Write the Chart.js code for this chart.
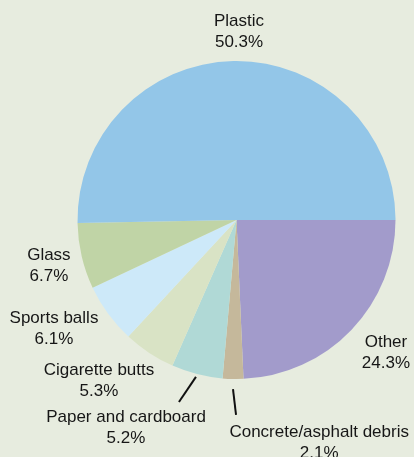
<!DOCTYPE html>
<html>
<head>
<meta charset="utf-8">
<script src="https://cdn.jsdelivr.net/npm/chart.js@4.4.0/dist/chart.umd.min.js"></script>
<style>
  html, body { margin: 0; padding: 0; background: #e7ecdf; }
  #wrap { width: 414px; height: 457px; }
</style>
</head>
<body>
<div id="wrap"><canvas id="pieChart" width="414" height="457"></canvas></div>
<script>
// 各類垃圾比例 (順時針, 從三點鐘方向開始)
const categories = ['Other', 'Concrete/asphalt debris', 'Paper and cardboard', 'Cigarette butts', 'Sports balls', 'Glass', 'Plastic'];
const shares = [24.3, 2.1, 5.2, 5.3, 6.1, 6.7, 50.3];
const sliceColors = ['#a29bcb', '#c5b89b', '#b0d9d6', '#d9e3c5', '#cde9f9', '#c0d4a6', '#93c6e8'];

// 標籤位置 (相對圓心, 以半徑為單位)
const labelOffsets = [
  [0.94, 0.825],
  [0.52, 1.39],
  [-0.695, 1.30],
  [-0.865, 1.0],
  [-1.148, 0.673],
  [-1.18, 0.277],
  [0.016, -1.19]
];
// 引導線 (只有小的兩塊)
const leaders = {
  1: [[-0.022, 1.063], [-0.003, 1.226]],
  2: [[-0.255, 0.987], [-0.362, 1.145]]
};

const FONT = '17px "Liberation Sans", Arial, sans-serif';

const labelPlugin = {
  id: 'pieLabels',
  afterDraw(chart) {
    const ctx = chart.ctx;
    const arcs = chart.getDatasetMeta(0).data;
    ctx.save();
    ctx.font = FONT;
    ctx.fillStyle = '#161616';
    ctx.textAlign = 'center';
    ctx.textBaseline = 'middle';
    arcs.forEach(function (arc, i) {
      const cx = arc.x, cy = arc.y, r = arc.outerRadius;
      const off = labelOffsets[i];
      const x = cx + off[0] * r;
      const y = cy + off[1] * r + 1.5;
      ctx.fillText(categories[i], x, y - 10.5);
      ctx.fillText(shares[i].toFixed(1) + '%', x, y + 10.5);
      const ld = leaders[i];
      if (ld) {
        ctx.strokeStyle = '#111';
        ctx.lineWidth = 2;
        ctx.beginPath();
        ctx.moveTo(cx + ld[0][0] * r, cy + ld[0][1] * r);
        ctx.lineTo(cx + ld[1][0] * r, cy + ld[1][1] * r);
        ctx.stroke();
      }
    });
    ctx.restore();
  }
};

const ctx = document.getElementById('pieChart').getContext('2d');
new Chart(ctx, {
  type: 'pie',
  data: {
    labels: categories,
    datasets: [{
      data: shares,
      backgroundColor: sliceColors,
      borderWidth: 0
    }]
  },
  options: {
    responsive: false,
    animation: false,
    rotation: 90,
    layout: { padding: { top: 61, bottom: 78, left: 77.5, right: 18.5 } },
    plugins: {
      legend: { display: false },
      tooltip: { enabled: false }
    }
  },
  plugins: [labelPlugin]
});
</script>
</body>
</html>
